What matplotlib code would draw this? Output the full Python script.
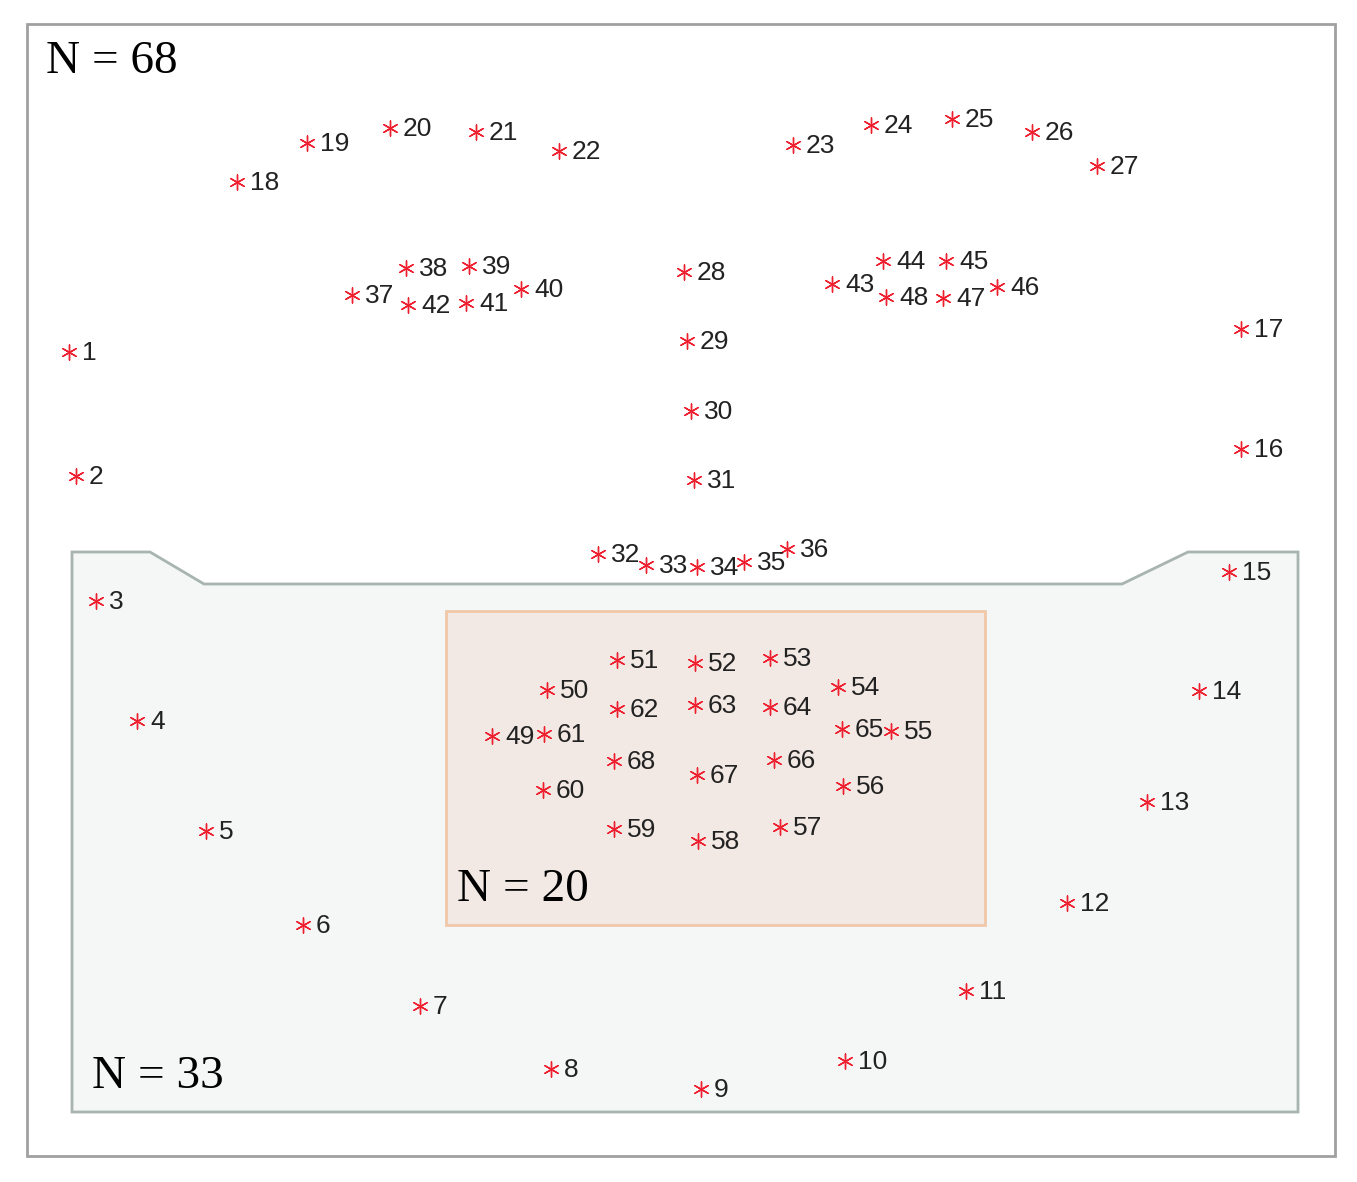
import matplotlib
matplotlib.use("Agg")
import matplotlib.pyplot as plt
from matplotlib.patches import Polygon, Rectangle

# landmark positions (image pixel coords)
xs = [69,76,96,137,206,303,420,551,701,845,966,1067,1147,1199,1229,1241,1241,
      237,307,390,476,559,793,871,952,1032,1097,
      684,687,691,694,598,646,697,744,787,
      352,406,469,521,466,408,832,883,946,997,943,886,
      492,547,617,695,770,838,891,843,780,698,614,543,544,617,695,770,842,774,697,614]
ys = [352,476,601,721,831,925,1006,1069,1089,1061,991,903,802,691,572,449,329,
      182,143,128,132,151,145,125,119,132,166,
      272,341,411,480,554,565,567,562,549,
      295,268,266,289,303,305,284,261,261,287,298,297,
      736,690,660,663,658,687,731,786,827,841,829,790,734,709,705,707,729,760,775,761]
labels = [str(i) for i in range(1, 69)]

W, H = 1357, 1182
fig = plt.figure(figsize=(W/100, H/100), dpi=100)
ax = fig.add_axes([0, 0, 1, 1])
ax.set_xlim(0, W); ax.set_ylim(H, 0); ax.axis("off")

ax.add_patch(Rectangle((27, 24), 1308, 1132, fill=False, ec="#a0a0a0", lw=2))
ax.add_patch(Polygon([(72,552),(150,552),(204,584),(1122,584),(1188,552),(1298,552),
                      (1298,1112),(72,1112)], closed=True, fc="#f4f7f6", ec="#a8b4b0", lw=2))
ax.add_patch(Rectangle((446, 611), 539, 314, fc="#f3e9e4", ec="#f0c8a8", lw=2))

ax.scatter(xs, ys, marker=(6, 2, 0), s=120, c="#ee2030", lw=1.0, zorder=3)
for x, y, t in zip(xs, ys, labels):
    ax.text(x + 13, y + 1, t, fontsize=19, va="center", ha="left", color="#222222",
            family="Liberation Sans", zorder=4)

for x, y, t in [(46, 62, "N = 68"), (92, 1077, "N = 33"), (457, 890, "N = 20")]:
    ax.text(x, y, t, fontsize=34, va="center", ha="left", family="Liberation Serif", color="black")

fig.savefig("out.png", dpi=100)
